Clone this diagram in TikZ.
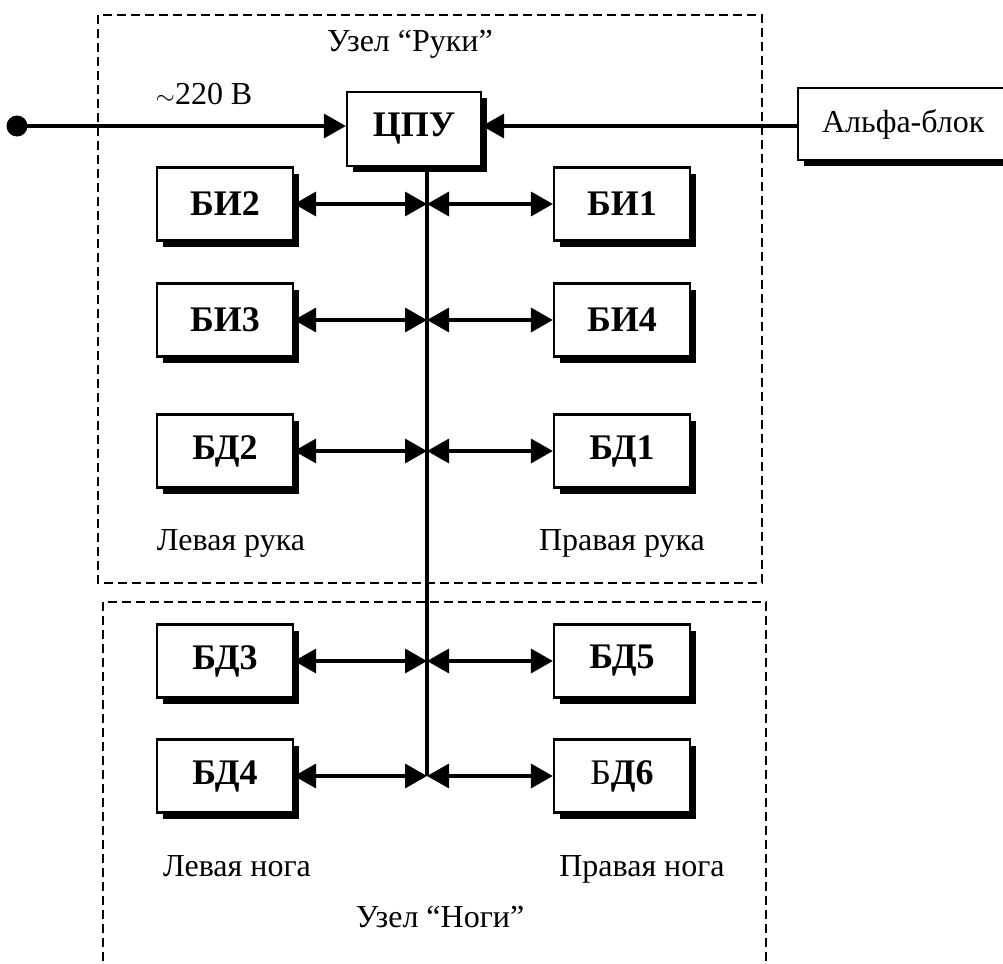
\documentclass[tikz,border=0pt]{standalone}
\usepackage{fontspec}
\setmainfont{Liberation Serif}
\usetikzlibrary{arrows.meta,shadows}
\begin{document}
\begin{tikzpicture}[x=1pt,y=-1pt,
  blk/.style={draw, line width=2.2pt, fill=white,
    minimum width=136pt, minimum height=73pt, inner sep=0pt,
    font=\fontsize{36}{40}\selectfont\bfseries,
    drop shadow={shadow xshift=6pt, shadow yshift=-6pt, opacity=1, fill=black}},
  lbl/.style={font=\fontsize{32}{36}\selectfont, inner sep=0pt, anchor=base},
  zone/.style={line width=1.8pt, dash pattern=on 9pt off 5pt},
  wire/.style={line width=3.5pt},
  tipend/.style={-{Triangle[length=22pt,width=24pt]}},
  duplex/.style={{Triangle[length=22pt,width=24pt]}-{Triangle[length=22pt,width=24pt]}}
]
\useasboundingbox (0,0) rectangle (1003,963);

% dashed zones
\draw[zone] (98,15) rectangle (762,583);
\draw[zone] (103,975) -- (103,602) -- (766,602) -- (766,975);

% zone titles and side labels
\node[lbl] (armsT) at (410,52) {Узел “Руки”};
\node[lbl] (legsT) at (440,927) {Узел “Ноги”};
\node[lbl] (lArm) at (231,550) {Левая рука};
\node[lbl] (rArm) at (622,550) {Правая рука};
\node[lbl] (lLeg) at (237,876) {Левая нога};
\node[lbl] (rLeg) at (642,876) {Правая нога};
\node[lbl] (volt) at (204,105) {$\sim$220 В};

% central unit and alpha block
\node[blk, minimum width=134pt, minimum height=74pt] (cpu) at (414,129) {ЦПУ};
\node[blk, anchor=west, font=\fontsize{32}{36}\selectfont,
      text width=190pt, align=left, inner xsep=24pt, minimum height=72pt] (alpha) at (797,124) {Альфа-блок};

% power input
\node[circle, fill, minimum size=21pt, inner sep=0pt] (src) at (17,126) {};
\draw[wire,tipend] (src.center) -- (src -| cpu.west);
\draw[wire,tipend] (alpha.west |- src) -- (src -| cpu.east);

% sensor blocks
\node[blk] (bi2) at (225,204) {БИ2};
\node[blk] (bi1) at (622,204) {БИ1};
\node[blk] (bi3) at (225,320) {БИ3};
\node[blk] (bi4) at (622,320) {БИ4};
\node[blk] (bd2) at (225,451) {БД2};
\node[blk] (bd1) at (622,451) {БД1};
\node[blk] (bd3) at (225,661) {БД3};
\node[blk] (bd5) at (622,661) {БД5};
\node[blk] (bd4) at (225,776) {БД4};
\node[blk] (bd6) at (622,776) {{\mdseries Б}Д6};

% bus junctions
\coordinate (j1) at (427,204);
\coordinate (j2) at (427,320);
\coordinate (j3) at (427,451);
\coordinate (j4) at (427,661);
\coordinate (j5) at (427,776);

% vertical bus
\draw[wire] (cpu.south -| j1) -- (j5);

% links to blocks
\draw[wire,duplex] (j1) -- (bi2.east);
\draw[wire,duplex] (j1) -- (bi1.west);
\draw[wire,duplex] (j2) -- (bi3.east);
\draw[wire,duplex] (j2) -- (bi4.west);
\draw[wire,duplex] (j3) -- (bd2.east);
\draw[wire,duplex] (j3) -- (bd1.west);
\draw[wire,duplex] (j4) -- (bd3.east);
\draw[wire,duplex] (j4) -- (bd5.west);
\draw[wire,duplex] (j5) -- (bd4.east);
\draw[wire,duplex] (j5) -- (bd6.west);
\end{tikzpicture}
\end{document}
